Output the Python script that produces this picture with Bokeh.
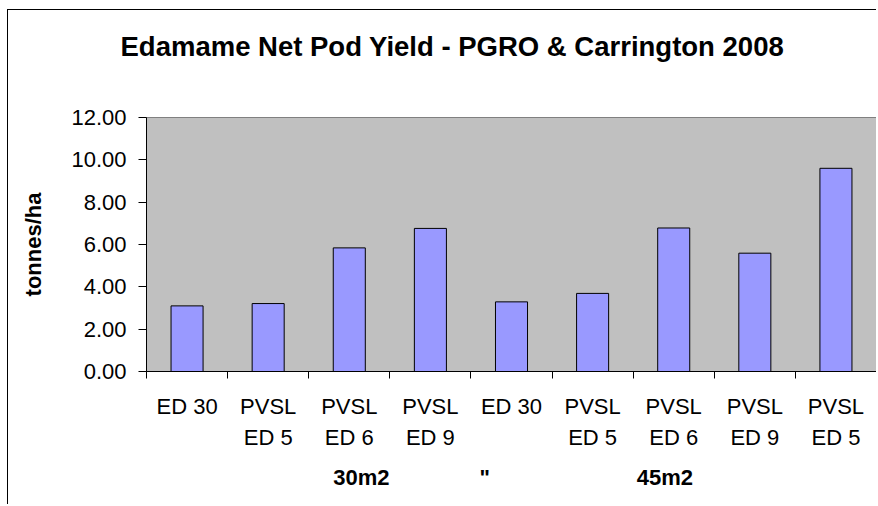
from bokeh.plotting import figure
from bokeh.models import Range1d, FixedTicker, NumeralTickFormatter, LinearAxis, Title
from bokeh.embed import file_html
from bokeh.resources import INLINE

# ---- data ----
categories = ["ED 30", "PVSL\nED 5", "PVSL\nED 6", "PVSL\nED 9", "ED 30",
              "PVSL\nED 5", "PVSL\nED 6", "PVSL\nED 9", "PVSL\nED 5"]
yields = [3.10, 3.21, 5.84, 6.76, 3.29, 3.69, 6.78, 5.59, 9.60]
y_ticks = [0, 2, 4, 6, 8, 10, 12]
group_labels = ["30m2", "\"", "45m2"]
group_label_pos = [2.65, 4.17, 6.39]
title_text = "Edamame Net Pod Yield - PGRO & Carrington 2008"
y_label = "tonnes/ha"

FONT = "Liberation Sans"
n = len(categories)
centers = [i + 0.5 for i in range(n)]

p = figure(width=869, height=495, output_backend="svg", toolbar_location=None,
           x_range=Range1d(0, n), y_range=Range1d(0, 12),
           min_border_left=138, min_border_right=1, min_border_top=107,
           min_border_bottom=134, x_axis_type=None, y_axis_type=None,
           title=title_text,
           styles={"border-left": "1px solid black", "border-top": "1px solid black",
                   "margin-left": "7px", "margin-top": "9px"})
p.background_fill_color = "#C0C0C0"
p.border_fill_color = "white"
p.outline_line_color = "#808080"
p.outline_line_width = 1

p.title.align = "left"
p.title.offset = -26
p.title.standoff = 0
p.title.text_font = FONT
p.title.text_font_style = "bold"
p.title.text_font_size = "27.5px"
p.title.text_color = "black"

# blank spacer between title and plot area
p.add_layout(Title(text=" ", text_font_size="1px", standoff=53), "above")

# y axis
yax = LinearAxis(ticker=FixedTicker(ticks=y_ticks),
                 formatter=NumeralTickFormatter(format="0.00"))
yax.axis_label = y_label
yax.axis_label_text_font = FONT
yax.axis_label_text_font_style = "bold"
yax.axis_label_text_font_size = "22px"
yax.axis_label_text_color = "black"
yax.axis_label_standoff = 22
yax.major_label_text_font = FONT
yax.major_label_text_font_size = "22px"
yax.major_label_text_color = "black"
yax.major_tick_in = 0
yax.major_tick_out = 8
yax.major_tick_line_color = "black"
yax.minor_tick_line_color = None
yax.major_label_standoff = 12
yax.axis_line_color = "black"
p.add_layout(yax, "left")

# x axis (category labels between boundary ticks)
xax = LinearAxis(ticker=FixedTicker(ticks=centers, minor_ticks=list(range(n + 1))),
                 major_label_overrides={c: lab for c, lab in zip(centers, categories)})
xax.major_tick_line_color = None
xax.major_tick_in = 0
xax.major_tick_out = 0
xax.minor_tick_in = 0
xax.minor_tick_out = 7
xax.minor_tick_line_color = "black"
xax.major_label_text_font = FONT
xax.major_label_text_font_size = "22px"
xax.major_label_text_color = "black"
xax.major_label_text_line_height = 1.24
xax.major_label_standoff = 15
xax.axis_line_color = "black"
p.add_layout(xax, "below")

# second-level group labels
gax = LinearAxis(ticker=FixedTicker(ticks=group_label_pos, minor_ticks=[]),
                 major_label_overrides={g: lab for g, lab in zip(group_label_pos, group_labels)})
gax.major_tick_line_color = None
gax.minor_tick_line_color = None
gax.axis_line_color = None
gax.major_label_text_font = FONT
gax.major_label_text_font_style = "bold"
gax.major_label_text_font_size = "22px"
gax.major_label_text_color = "black"
gax.major_label_standoff = 6
p.add_layout(gax, "below")

p.ygrid.grid_line_color = "black"
p.ygrid.grid_line_width = 1
p.ygrid.ticker = FixedTicker(ticks=y_ticks)
p.xgrid.grid_line_color = None

p.vbar(x=centers, top=yields, width=0.395, fill_color="#9999FF",
       line_color="black", line_width=1)

open("out.html", "w").write(file_html(p, INLINE))
